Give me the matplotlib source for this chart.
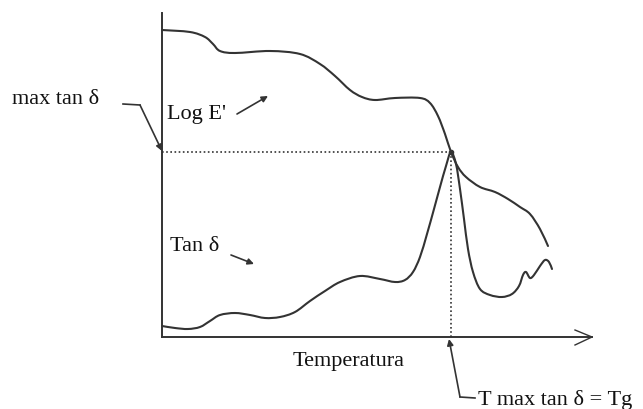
import matplotlib.pyplot as plt
import numpy as np
from matplotlib.path import Path
from matplotlib.patches import PathPatch

plt.rcParams['font.family'] = ['Liberation Serif', 'DejaVu Serif']

# temperature (arbitrary units) and curve heights (arbitrary units)
temp_loge = [0, 28, 43, 51, 58, 73, 108, 138, 158, 173, 188, 200, 213, 233, 258,
             268, 276, 283, 289, 296, 304, 318, 333, 346, 358, 368, 378, 386]
log_e = [307, 305, 300, 293, 286, 284, 286, 283, 273, 261, 247, 240, 237, 239, 239,
         234, 221, 203, 185, 170, 160, 150, 145, 138, 130, 123, 108, 91]

temp_tan = [0, 13, 26, 38, 48, 58, 73, 88, 103, 118, 133, 148, 163, 178, 198, 218,
            233, 243, 251, 258, 265, 272, 278, 284, 289, 294, 298, 302, 306, 311,
            318, 328, 340, 350, 357, 361, 364, 368, 372, 378, 383, 387, 390]
tan_d = [11, 9, 8, 10, 16, 22, 24, 22, 19, 20, 25, 36, 46, 55, 61, 58,
         55, 57, 65, 80, 103, 128, 150, 171, 185, 173, 148, 118, 88, 65,
         48, 42, 40, 43, 51, 62, 65, 59, 62, 71, 77, 75, 68]

ink = '#333333'


def smooth_path(xs, ys):
    # Catmull-Rom through the points, written as cubic Bezier segments
    p = np.column_stack([xs, ys]).astype(float)
    verts = [p[0]]
    codes = [Path.MOVETO]
    for i in range(len(p) - 1):
        p0 = p[i - 1] if i > 0 else p[i]
        p3 = p[i + 2] if i + 2 < len(p) else p[i + 1]
        c1 = p[i] + (p[i + 1] - p0) / 6
        c2 = p[i + 1] - (p3 - p[i]) / 6
        verts += [c1, c2, p[i + 1]]
        codes += [Path.CURVE4] * 3
    return Path(verts, codes)


fig = plt.figure(figsize=(6.43, 4.10), dpi=100)
ax = fig.add_axes([162 / 643, 72 / 410, 430 / 643, 324 / 410])
ax.set_xlim(0, 430)
ax.set_ylim(0, 324)
ax.axis('off')

# axes drawn by hand: vertical line and horizontal arrow
ax.plot([0, 0], [0, 324], color=ink, lw=1.4, clip_on=False)
ax.plot([0, 430], [0, 0], color=ink, lw=1.4, clip_on=False)
ax.plot([413, 430, 413], [7, 0, -8], color=ink, lw=1.0, clip_on=False)

for xs, ys in [(temp_loge, log_e), (temp_tan, tan_d)]:
    ax.add_patch(PathPatch(smooth_path(xs, ys), fill=False, edgecolor=ink,
                           lw=1.5, joinstyle='round', capstyle='round', clip_on=False))

# peak of tan delta -> Tg
i_peak = int(np.argmax(tan_d))
t_peak, v_peak = temp_tan[i_peak], tan_d[i_peak]
ax.plot([0, t_peak], [v_peak, v_peak], color=ink, lw=1.2, ls=(0, (1, 1.5)), clip_on=False)
ax.plot([t_peak, t_peak], [0, v_peak], color=ink, lw=1.2, ls=(0, (1, 1.5)), clip_on=False)
ax.plot([t_peak], [v_peak], 'o', color=ink, ms=3)

arrow = dict(arrowstyle='-|>', color=ink, lw=1.2, mutation_scale=9, shrinkA=0, shrinkB=0)
fs = 16
tc = '#111111'

# max tan delta label with leader
ax.text(-150, 238, 'max tan δ', fontsize=fs, va='center', ha='left', color=tc)
ax.plot([-39, -22], [233, 232], color=ink, lw=1.2, clip_on=False)
ax.annotate('', xy=(0, v_peak + 1), xytext=(-22, 232), arrowprops=arrow,
            annotation_clip=False)

ax.text(5, 224, "Log E'", fontsize=fs, va='center', ha='left', color=tc)
ax.annotate('', xy=(106, 241), xytext=(75, 223), arrowprops=arrow, annotation_clip=False)

ax.text(8, 91, 'Tan δ', fontsize=fs, va='center', ha='left', color=tc)
ax.annotate('', xy=(92, 73), xytext=(69, 82), arrowprops=arrow, annotation_clip=False)

ax.text(187, -24, 'Temperatura', fontsize=fs, va='center', ha='center', color=tc)

# Tg pointer
ax.plot([298, 313], [-60, -61], color=ink, lw=1.2, clip_on=False)
ax.annotate('', xy=(t_peak - 2, -2), xytext=(298, -60), arrowprops=arrow,
            annotation_clip=False)
ax.text(316, -62, 'T max tan δ = Tg', fontsize=fs, va='center', ha='left', color=tc)

fig.savefig('out.png', dpi=100)
